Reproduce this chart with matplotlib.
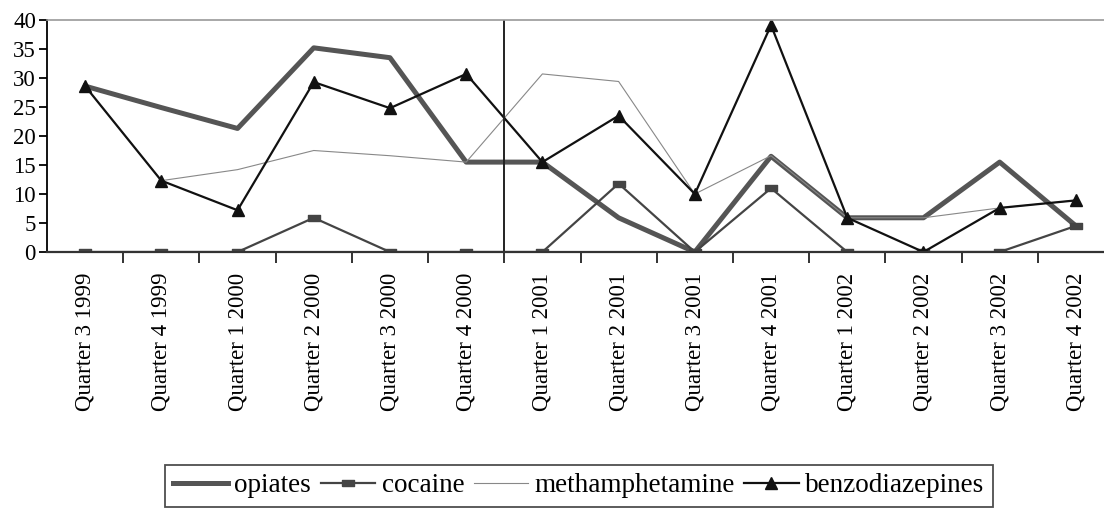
import matplotlib.pyplot as plt

# 폰트: 세리프 계열
plt.rcParams['font.family'] = ['Liberation Serif', 'DejaVu Serif']

# 분기 라벨
quarters = ['Quarter 3 1999', 'Quarter 4 1999', 'Quarter 1 2000', 'Quarter 2 2000',
            'Quarter 3 2000', 'Quarter 4 2000', 'Quarter 1 2001', 'Quarter 2 2001',
            'Quarter 3 2001', 'Quarter 4 2001', 'Quarter 1 2002', 'Quarter 2 2002',
            'Quarter 3 2002', 'Quarter 4 2002']

# 약물별 값
opiates = [28.6, 24.9, 21.3, 35.2, 33.5, 15.5, 15.5, 5.9, 0, 16.5, 5.9, 5.9, 15.5, 4.5]
cocaine = [0, 0, 0, 5.9, 0, 0, 0, 11.8, 0, 11.0, 0, 0, 0, 4.5]
methamphetamine = [28.6, 12.3, 14.2, 17.5, 16.6, 15.5, 30.7, 29.4, 10.0, 16.6, 5.9, 5.9, 7.6, 8.9]
benzodiazepines = [28.6, 12.3, 7.2, 29.3, 24.8, 30.7, 15.5, 23.5, 10.0, 39.1, 5.9, 0, 7.6, 8.9]

x = list(range(len(quarters)))

fig = plt.figure(figsize=(11.04, 5.11), dpi=100)
ax = fig.add_axes([47 / 1104, 1 - 252 / 511, 1067 / 1104, 232 / 511])

# 가로로 납작한 사각형 마커
flat_square = [(-1, -0.6), (1, -0.6), (1, 0.6), (-1, 0.6), (-1, -0.6)]

ax.plot(x, opiates, color='#555555', lw=3.6, label='opiates')
ax.plot(x, cocaine, color='#444444', lw=1.6, marker=flat_square, ms=8, label='cocaine')
ax.plot(x, methamphetamine, color='#888888', lw=0.8, label='methamphetamine')
ax.plot(x, benzodiazepines, color='#111111', lw=1.6, marker='^', ms=9, label='benzodiazepines')

# 2000년/2001년 경계선
ax.axvline(5.5, color='#222222', lw=1.4)

ax.set_xlim(-0.5, 13.5)
ax.set_ylim(0, 40)
ax.set_yticks(range(0, 41, 5))
ax.set_xticks([i + 0.5 for i in x[:-1]])
ax.set_xticklabels([])
ax.set_xticks(x, minor=True)
ax.set_xticklabels(quarters, minor=True, rotation=90, fontsize=16.5)
ax.tick_params(axis='x', which='minor', length=0, pad=15)
ax.tick_params(axis='x', which='major', direction='out', length=8, width=1.3, color='#222222')
ax.tick_params(axis='y', direction='out', length=6, width=1.3, labelsize=16.5, pad=2)

ax.spines['right'].set_visible(False)
ax.spines['top'].set_color('#999999')
ax.spines['top'].set_linewidth(1.2)
ax.spines['left'].set_linewidth(1.3)
ax.spines['bottom'].set_linewidth(1.6)
ax.spines['bottom'].set_color('#333333')

leg = fig.legend(loc='center', bbox_to_anchor=(579 / 1104, 1 - 486 / 511), ncol=4,
                 fontsize=19.5, frameon=True, fancybox=False, edgecolor='#222222',
                 handlelength=2.0, handletextpad=0.25, columnspacing=0.35,
                 borderpad=0.3, borderaxespad=0)
leg.get_frame().set_linewidth(1.3)

fig.savefig('out.png', dpi=100)
